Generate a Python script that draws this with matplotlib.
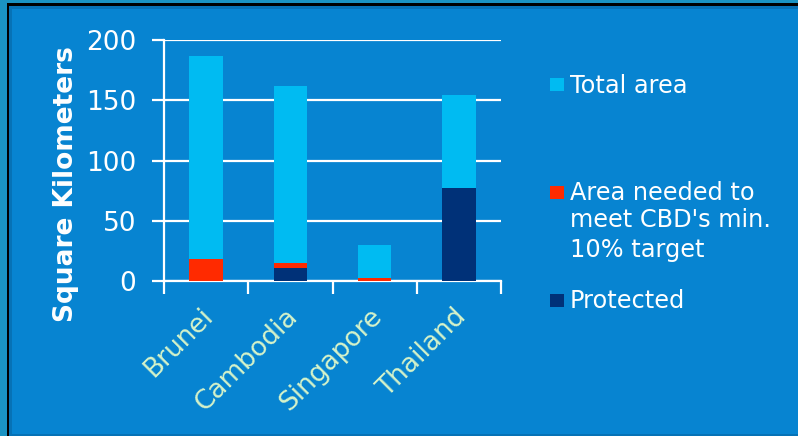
import numpy as np
import matplotlib.pyplot as plt
from matplotlib.patches import Rectangle
from matplotlib.transforms import ScaledTranslation

# Land area figures per country (square kilometres, scaled)
countries = ['Brunei', 'Cambodia', 'Singapore', 'Thailand']
total_area = [187, 162, 30, 154]
protected = [0, 11, 0, 77]
needed = [18.5, 4, 2.7, 0]
legend_labels = ['Total area', 'Area needed to', "meet CBD's min.", '10% target', 'Protected']

c_total = '#00bbf2'
c_needed = '#ff2a00'
c_protected = '#003178'
bg = '#0784d1'

W, H = 798, 436
fig = plt.figure(figsize=(W / 100, H / 100), dpi=100)
fig.patch.set_facecolor(bg)


def px_rect(x0, y0, x1, y1, col):
    # rectangle in pixel coords measured from the top-left corner
    fig.patches.append(Rectangle((x0 / W, 1 - y1 / H), (x1 - x0) / W, (y1 - y0) / H,
                                 transform=fig.transFigure,
                                 facecolor=col, edgecolor='none', zorder=-5))


# slide frame: teal margin, black edge, darker inner band
px_rect(0, 0, 7, H, '#1a93c3')
px_rect(0, 0, W, 3, '#1a93c3')
px_rect(7, 3, 9, H, 'black')
px_rect(7, 3, W, 6, 'black')
px_rect(9, 6, 12, H, '#0672b6')
px_rect(9, 6, W, 9, '#0672b6')
px_rect(9, H - 2, W, H, '#0672b6')

ax = fig.add_axes([164 / W, 1 - 281 / H, (501 - 164) / W, (281 - 40) / H])
ax.set_facecolor('none')

x = np.arange(len(countries))
ax.bar(x, total_area, 0.4, color=c_total, zorder=2)
ax.bar(x, protected, 0.4, color=c_protected, zorder=3)
ax.bar(x, needed, 0.4, bottom=protected, color=c_needed, zorder=3)

ax.set_xlim(-0.5, len(countries) - 0.5)
ax.set_ylim(0, 200)
ax.set_yticks(range(0, 201, 50))
ax.yaxis.grid(True, color='white', lw=1.6)
ax.set_axisbelow(True)

for s in ['top', 'right']:
    ax.spines[s].set_visible(False)
for s in ['left', 'bottom']:
    ax.spines[s].set_color('white')
    ax.spines[s].set_linewidth(1.6)

ax.tick_params(axis='y', colors='white', length=9, width=1.6, labelsize=19, pad=11)
ax.set_xticks(x)
ax.set_xticklabels(countries, rotation=45, ha='right', rotation_mode='anchor',
                   color='#d6f3c9', fontsize=19)
ax.tick_params(axis='x', which='major', length=0, pad=16)
ax.set_xticks(np.arange(-0.5, len(countries), 1), minor=True)
ax.tick_params(axis='x', which='minor', length=9, width=1.6, color='white')
shift = ScaledTranslation(-6 / 100, 0, fig.dpi_scale_trans)
for lab in ax.get_xticklabels():
    lab.set_transform(lab.get_transform() + shift)

fig.text(66 / W, 1 - 184.5 / H, 'Square Kilometers', rotation=90, fontsize=19,
         fontweight='bold', color='white', ha='center', va='center')

# legend drawn by hand
markers = [(78, c_total), (186, c_needed), (294, c_protected)]
for top, col in markers:
    px_rect(550, top, 564, top + 13, col)
baselines = [93, 200, 227, 257, 308]
for lbl, b in zip(legend_labels, baselines):
    fig.text(570 / W, 1 - b / H, lbl, fontsize=17.3, color='white',
             ha='left', va='baseline')

fig.savefig('out.png', dpi=100, facecolor=fig.get_facecolor())
